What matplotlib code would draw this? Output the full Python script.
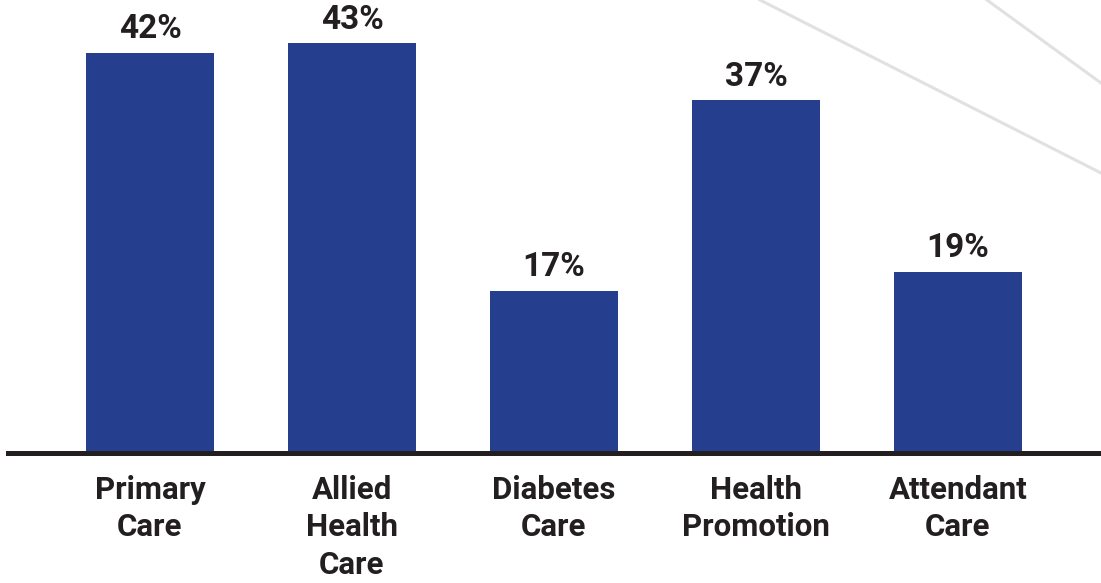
import matplotlib
matplotlib.use('Agg')
import matplotlib.pyplot as plt
import numpy as np

categories = ["Primary\nCare", "Allied\nHealth\nCare", "Diabetes\nCare", "Health\nPromotion", "Attendant\nCare"]
values = [42, 43, 17, 37, 19]
value_labels = ["42%", "43%", "17%", "37%", "19%"]

BAR_COLOR = '#253f8e'
TEXT_COLOR = '#231f20'
DECOR_COLOR = '#e0e1e3'

plt.rcParams['font.family'] = ['Roboto', 'DejaVu Sans']

fig = plt.figure(figsize=(11.01, 5.83), dpi=100)
ax = fig.add_axes([0, 0, 1, 1])

x = np.arange(len(categories))
bars = ax.bar(x, values, width=0.634, color=BAR_COLOR, zorder=2)

ax.set_xlim(-0.7425, 4.708)
ax.set_ylim(-13.64, 47.53)
ax.axis('off')

# baseline under the bars
ax.axhline(0, xmin=8 / 1101, xmax=1, color=TEXT_COLOR, linewidth=3.6, zorder=3)

# faint diagonal strokes in the top-right corner
ax.plot([760 / 1101, 1.0], [1.0, 1 - 173 / 583], transform=ax.transAxes,
        color=DECOR_COLOR, linewidth=2.2, zorder=1)
ax.plot([987 / 1101, 1.0], [1.0, 1 - 83 / 583], transform=ax.transAxes,
        color=DECOR_COLOR, linewidth=2.2, zorder=1)

for xi, v, lab in zip(x, values, value_labels):
    ax.annotate(lab, (xi, v), xytext=(0, 5.5), textcoords='offset points',
                ha='center', va='bottom', fontsize=24, fontweight='bold',
                color=TEXT_COLOR)

for xi, cat in zip(x, categories):
    ax.annotate(cat, (xi, 0), xytext=(0, -16), textcoords='offset points',
                ha='center', va='top', fontsize=22.5, fontweight='bold',
                color=TEXT_COLOR, linespacing=1.3)

fig.savefig('out.png', dpi=100)
